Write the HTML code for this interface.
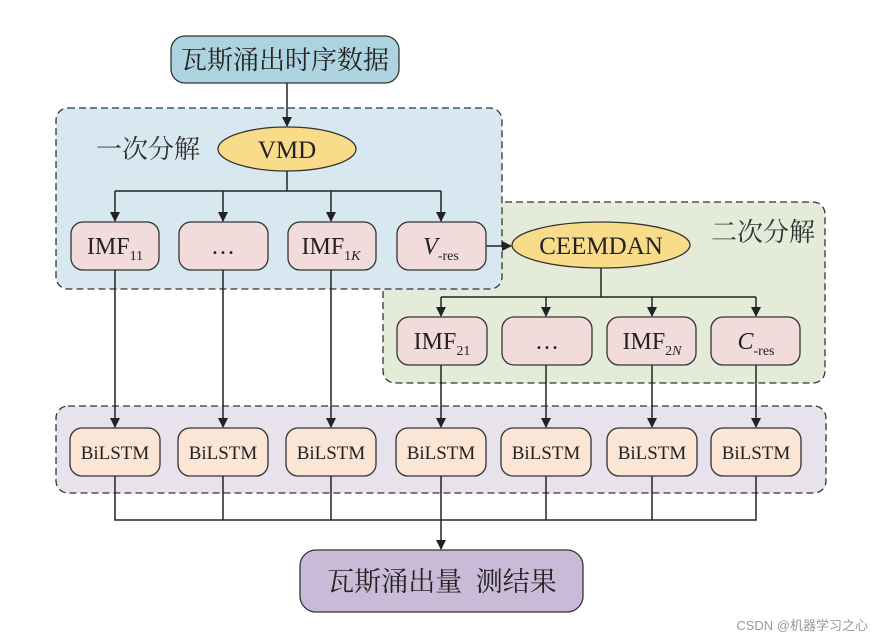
<!DOCTYPE html>
<html><head><meta charset="utf-8"><style>body{margin:0;background:#fff}svg{display:block}</style></head><body>
<svg width="878" height="640" viewBox="0 0 878 640" xmlns="http://www.w3.org/2000/svg" font-family="'Liberation Serif','Noto Serif CJK SC',serif">
<defs><marker id="a" markerWidth="10" markerHeight="10" refX="9" refY="5" orient="auto" markerUnits="userSpaceOnUse"><path d="M0,0 L10,5 L0,10 z" fill="#222"/></marker></defs>
<rect x="383" y="202" width="442" height="181" rx="12" fill="#e4ecd9" stroke="#333" stroke-dasharray="7,4" stroke-width="1.3"/>
<rect x="56" y="108" width="446" height="181" rx="12" fill="#d8e8f0" stroke="#333" stroke-dasharray="7,4" stroke-width="1.3"/>
<rect x="56" y="406" width="770" height="87" rx="12" fill="#e7e2ec" stroke="#333" stroke-dasharray="7,4" stroke-width="1.3"/>
<g stroke="#222" stroke-width="1.5" fill="none">
<line x1="287" y1="83" x2="287" y2="126" marker-end="url(#a)"/>
<polyline points="287,171 287,191"/><line x1="115" y1="191" x2="441" y2="191"/>
<line x1="115" y1="191" x2="115" y2="221" marker-end="url(#a)"/><line x1="223" y1="191" x2="223" y2="221" marker-end="url(#a)"/><line x1="331" y1="191" x2="331" y2="221" marker-end="url(#a)"/><line x1="441" y1="191" x2="441" y2="221" marker-end="url(#a)"/>
<line x1="486" y1="246" x2="511" y2="246" marker-end="url(#a)"/>
<line x1="601" y1="268" x2="601" y2="297"/><line x1="441" y1="297" x2="756" y2="297"/>
<line x1="441" y1="297" x2="441" y2="316" marker-end="url(#a)"/><line x1="546" y1="297" x2="546" y2="316" marker-end="url(#a)"/><line x1="652" y1="297" x2="652" y2="316" marker-end="url(#a)"/><line x1="756" y1="297" x2="756" y2="316" marker-end="url(#a)"/>
<line x1="115" y1="270" x2="115" y2="427" marker-end="url(#a)"/><line x1="223" y1="270" x2="223" y2="427" marker-end="url(#a)"/><line x1="331" y1="270" x2="331" y2="427" marker-end="url(#a)"/>
<line x1="441" y1="365" x2="441" y2="427" marker-end="url(#a)"/><line x1="546" y1="365" x2="546" y2="427" marker-end="url(#a)"/><line x1="652" y1="365" x2="652" y2="427" marker-end="url(#a)"/><line x1="756" y1="365" x2="756" y2="427" marker-end="url(#a)"/>
<polyline points="115,476 115,520 756,520 756,476"/><line x1="223" y1="476" x2="223" y2="520"/><line x1="331" y1="476" x2="331" y2="520"/><line x1="546" y1="476" x2="546" y2="520"/><line x1="652" y1="476" x2="652" y2="520"/>
<line x1="441" y1="476" x2="441" y2="549" marker-end="url(#a)"/>
</g>
<rect x="171" y="36" width="228" height="47" rx="14" fill="#aed3e0" stroke="#333" stroke-width="1.3"/>
<text x="285" y="69" font-size="26" text-anchor="middle" fill="#222">瓦斯涌出时序数据</text>
<text x="148" y="158" font-size="26" text-anchor="middle" fill="#333">一次分解</text>
<text x="763" y="241" font-size="26" text-anchor="middle" fill="#333">二次分解</text>
<ellipse cx="287" cy="149" rx="69" ry="22" fill="#f9dc8a" stroke="#333" stroke-width="1.3"/>
<text x="287" y="158" font-size="25" text-anchor="middle" fill="#222">VMD</text>
<ellipse cx="601" cy="245" rx="89" ry="23" fill="#f9dc8a" stroke="#333" stroke-width="1.3"/>
<text x="601" y="254" font-size="25" text-anchor="middle" fill="#222">CEEMDAN</text>
<g fill="#f2dcdb" stroke="#333" stroke-width="1.3">
<rect x="71" y="222" width="88" height="48" rx="12"/><rect x="179" y="222" width="89" height="48" rx="12"/><rect x="288" y="222" width="88" height="48" rx="12"/><rect x="397" y="222" width="89" height="48" rx="12"/>
<rect x="397" y="317" width="90" height="48" rx="12"/><rect x="502" y="317" width="90" height="48" rx="12"/><rect x="607" y="317" width="89" height="48" rx="12"/><rect x="711" y="317" width="89" height="48" rx="12"/>
</g>
<g font-size="24" fill="#222" text-anchor="middle">
<text x="115" y="254">IMF<tspan font-size="14" dy="6">11</tspan></text>
<text x="223" y="254">…</text>
<text x="331" y="254">IMF<tspan font-size="14" dy="6">1<tspan font-style="italic">K</tspan></tspan></text>
<text x="441" y="254"><tspan font-style="italic">V</tspan><tspan font-size="14" dy="6">-res</tspan></text>
<text x="442" y="349">IMF<tspan font-size="14" dy="6">21</tspan></text>
<text x="547" y="349">…</text>
<text x="652" y="349">IMF<tspan font-size="14" dy="6">2<tspan font-style="italic">N</tspan></tspan></text>
<text x="756" y="349"><tspan font-style="italic">C</tspan><tspan font-size="14" dy="6">-res</tspan></text>
</g>
<g fill="#fbe5d5" stroke="#333" stroke-width="1.3">
<rect x="70" y="428" width="90" height="48" rx="12"/><rect x="178" y="428" width="90" height="48" rx="12"/><rect x="286" y="428" width="90" height="48" rx="12"/><rect x="396" y="428" width="90" height="48" rx="12"/><rect x="501" y="428" width="90" height="48" rx="12"/><rect x="607" y="428" width="90" height="48" rx="12"/><rect x="711" y="428" width="90" height="48" rx="12"/>
</g>
<g font-size="19" fill="#222" text-anchor="middle">
<text x="115" y="459">BiLSTM</text><text x="223" y="459">BiLSTM</text><text x="331" y="459">BiLSTM</text><text x="441" y="459">BiLSTM</text><text x="546" y="459">BiLSTM</text><text x="652" y="459">BiLSTM</text><text x="756" y="459">BiLSTM</text>
</g>
<rect x="300" y="550" width="283" height="62" rx="16" fill="#cbbad7" stroke="#333" stroke-width="1.3"/>
<text x="442" y="591" font-size="27" text-anchor="middle" fill="#222" xml:space="preserve">瓦斯涌出量  测结果</text>
<text x="868" y="630" font-size="13" text-anchor="end" fill="#999" font-family="'Liberation Sans','Noto Sans CJK SC',sans-serif">CSDN @机器学习之心</text>
</svg>
</body></html>
